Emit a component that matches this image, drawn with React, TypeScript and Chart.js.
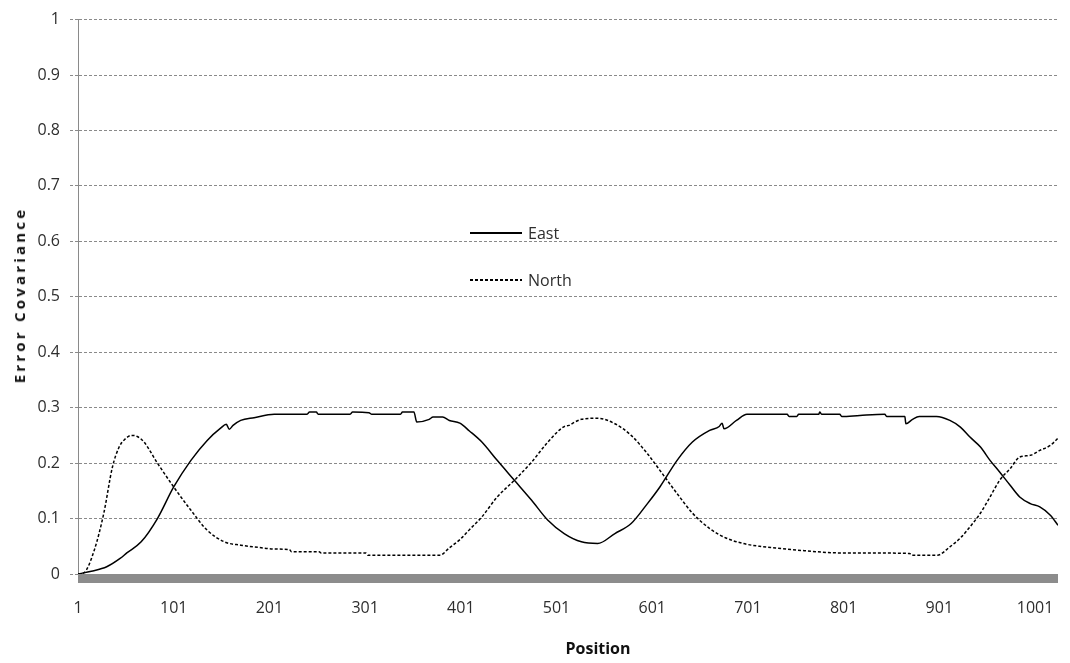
import React, { useEffect, useRef } from "react";
import { Chart, registerables } from "chart.js";

Chart.register(...registerables);

// ---- data ----
const xTickValues = [1, 101, 201, 301, 401, 501, 601, 701, 801, 901, 1001];
const xMin = 1;
const xMax = 1025;
const yMin = 0;
const yMax = 1;
const yStep = 0.1;

const seriesNames = ["East", "North"];

const eastPositions = [
  1, 15, 31, 45, 52, 67, 84, 101, 119, 136, 150, 156, 159, 163, 171, 185, 206,
  240, 243, 250, 252, 285, 288, 305, 308, 338, 340, 352, 355, 368, 372, 382,
  389, 400, 410, 423, 439, 457, 475, 492, 509, 527, 544, 562, 579, 596, 609,
  627, 643, 661, 671, 674, 676, 689, 700, 742, 744, 752, 754, 775, 776, 778,
  797, 799, 818, 844, 846, 865, 866, 873, 880, 898, 912, 923, 933, 944, 954,
  964, 975, 985, 996, 1006, 1017, 1025,
];
const eastValues = [
  0.0, 0.005, 0.013, 0.028, 0.038, 0.058, 0.1, 0.157, 0.205, 0.241, 0.263, 0.27,
  0.261, 0.268, 0.277, 0.282, 0.288, 0.288, 0.292, 0.292, 0.288, 0.288, 0.292,
  0.291, 0.288, 0.288, 0.292, 0.292, 0.274, 0.279, 0.283, 0.283, 0.277, 0.272,
  0.258, 0.238, 0.205, 0.169, 0.133, 0.097, 0.073, 0.058, 0.055, 0.073, 0.091,
  0.127, 0.157, 0.205, 0.238, 0.259, 0.266, 0.272, 0.262, 0.277, 0.288, 0.288,
  0.284, 0.284, 0.288, 0.288, 0.292, 0.288, 0.288, 0.284, 0.286, 0.288, 0.284,
  0.284, 0.271, 0.279, 0.284, 0.284, 0.277, 0.265, 0.247, 0.229, 0.205, 0.184,
  0.16, 0.139, 0.127, 0.121, 0.106, 0.088,
];

const northPositions = [
  1, 7, 18, 28, 37, 44, 50, 57, 63, 70, 84, 101, 119, 136, 154, 171, 190, 206,
  222, 224, 253, 255, 302, 304, 379, 389, 400, 410, 423, 439, 457, 475, 492,
  509, 514, 520, 527, 544, 562, 579, 596, 609, 627, 643, 661, 678, 696, 713,
  730, 760, 798, 818, 870, 872, 899, 912, 923, 933, 944, 954, 964, 975, 985,
  996, 1006, 1017, 1025,
];
const northValues = [
  0.0, 0.002, 0.043, 0.11, 0.193, 0.229, 0.243, 0.25, 0.248, 0.238, 0.2, 0.157,
  0.115, 0.079, 0.058, 0.052, 0.048, 0.045, 0.044, 0.04, 0.04, 0.038, 0.038,
  0.034, 0.034, 0.047, 0.062, 0.08, 0.103, 0.139, 0.169, 0.202, 0.238, 0.266,
  0.268, 0.274, 0.279, 0.281, 0.271, 0.25, 0.217, 0.187, 0.145, 0.11, 0.082,
  0.065, 0.055, 0.05, 0.047, 0.042, 0.038, 0.038, 0.037, 0.034, 0.034, 0.049,
  0.065, 0.085, 0.11, 0.139, 0.169, 0.19, 0.211, 0.214, 0.223, 0.232, 0.245,
];

const xTitle = "Position";
const yTitle = "Error Covariance";

// ---- styles ----
const FONT = "'Open Sans', 'Noto Sans', sans-serif";
const TEXT_COLOR = "#2e2e2e";
const GRID_COLOR = "#8a8a8a";
const BAR_COLOR = "#8c8c8c";

const baseBarPlugin = {
  id: "baseBar",
  beforeDatasetsDraw(chart: any) {
    const { ctx, chartArea, scales } = chart;
    const y0 = scales.y.getPixelForValue(yMin);
    ctx.save();
    ctx.fillStyle = BAR_COLOR;
    ctx.fillRect(chartArea.left, y0, chartArea.right - chartArea.left, 9);
    ctx.restore();
  },
};

function toPoints(xs: number[], ys: number[]) {
  return xs.map((x, i) => ({ x, y: ys[i] }));
}

export default function App() {
  const canvasRef = useRef<HTMLCanvasElement | null>(null);

  useEffect(() => {
    const canvas = canvasRef.current;
    if (!canvas) return;
    const chart = new Chart(canvas, {
      type: "line",
      data: {
        datasets: [
          {
            label: seriesNames[0],
            data: toPoints(eastPositions, eastValues),
            borderColor: "#000000",
            borderWidth: 1.5,
            pointRadius: 0,
            fill: false,
            cubicInterpolationMode: "monotone",
          },
          {
            label: seriesNames[1],
            data: toPoints(northPositions, northValues),
            borderColor: "#000000",
            borderWidth: 1.5,
            borderDash: [3, 2],
            pointRadius: 0,
            fill: false,
            cubicInterpolationMode: "monotone",
          },
        ],
      },
      options: {
        animation: false,
        responsive: false,
        devicePixelRatio: 1,
        layout: { padding: { left: 8, right: 12, top: 18, bottom: 0 } },
        plugins: {
          legend: { display: false },
          tooltip: { enabled: false },
        },
        scales: {
          x: {
            type: "linear",
            min: xMin,
            max: xMax,
            afterBuildTicks: (s: any) => {
              s.ticks = xTickValues.map((v) => ({ value: v }));
            },
            afterFit: (s: any) => {
              s.height = 89;
              s.paddingLeft = 0;
              s.paddingRight = 0;
            },
            grid: { display: false, drawTicks: false },
            border: { display: false },
            ticks: {
              autoSkip: false,
              maxRotation: 0,
              padding: 25,
              color: TEXT_COLOR,
              font: { family: FONT, size: 16 },
              callback: (v: any) => String(v),
            },
          },
          y: {
            min: yMin,
            max: yMax,
            afterFit: (s: any) => {
              s.width = 70;
            },
            grid: {
              color: GRID_COLOR,
              lineWidth: 1,
              tickLength: 8,
              tickColor: GRID_COLOR,
              tickBorderDash: [3, 2],
            },
            border: { display: true, color: GRID_COLOR, width: 1, dash: [3, 2] },
            ticks: {
              stepSize: yStep,
              padding: 10,
              color: TEXT_COLOR,
              font: { family: FONT, size: 16 },
              callback: (v: any) => String(Math.round(Number(v) * 10) / 10),
            },
          },
        },
      },
      plugins: [baseBarPlugin],
    } as any);
    return () => chart.destroy();
  }, []);

  const legendRow = (top: number, label: string, dashed: boolean) => (
    <div
      style={{
        position: "absolute",
        left: 470,
        top: top - 12,
        height: 24,
        display: "flex",
        alignItems: "center",
        fontFamily: FONT,
        fontSize: 16,
        color: TEXT_COLOR,
        whiteSpace: "nowrap",
      }}
    >
      <div
        style={{
          width: 52,
          height: 1.5,
          marginRight: 6,
          background: dashed
            ? "repeating-linear-gradient(to right, #000 0 3px, transparent 3px 5px)"
            : "#000",
        }}
      />
      <span>{label}</span>
    </div>
  );

  return (
    <div style={{ position: "absolute", left: 0, top: 0, width: 1070, height: 663, background: "#fff" }}>
      <canvas ref={canvasRef} width={1070} height={663} style={{ display: "block" }} />
      <div
        style={{
          position: "absolute",
          left: 19,
          top: 295,
          transform: "translate(-50%, -50%) rotate(-90deg)",
          fontFamily: FONT,
          fontWeight: 700,
          fontSize: 15,
          letterSpacing: "3.2px",
          color: "#111",
          whiteSpace: "nowrap",
        }}
      >
        {yTitle}
      </div>
      <div
        style={{
          position: "absolute",
          left: 598,
          top: 648,
          transform: "translate(-50%, -50%)",
          fontFamily: FONT,
          fontWeight: 700,
          fontSize: 16,
          color: "#111",
          whiteSpace: "nowrap",
        }}
      >
        {xTitle}
      </div>
      {legendRow(233, seriesNames[0], false)}
      {legendRow(280, seriesNames[1], true)}
    </div>
  );
}
